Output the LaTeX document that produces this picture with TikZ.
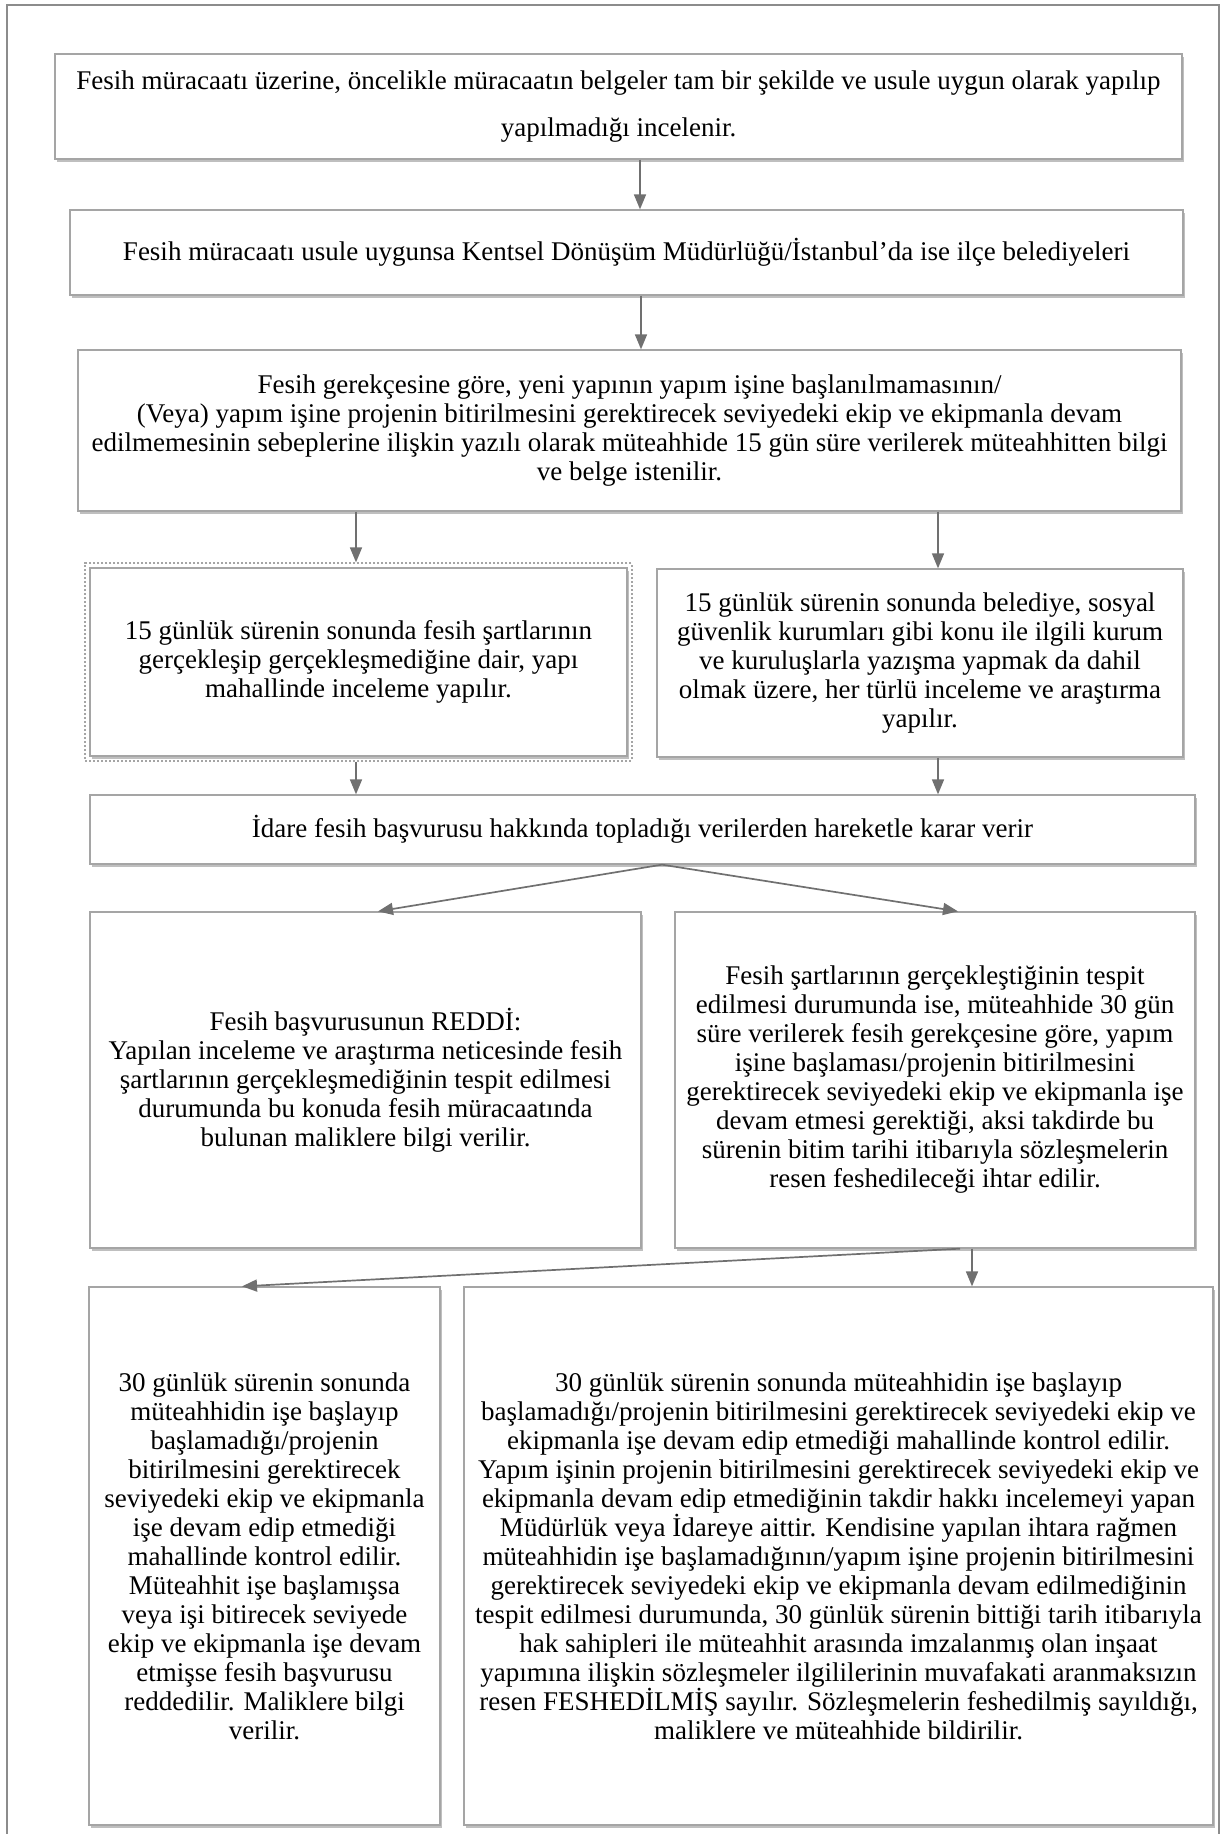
\documentclass[tikz,border=0pt]{standalone}
\usepackage{fontspec}
\setmainfont{Liberation Serif}
\definecolor{boxgray}{RGB}{165, 165, 165}
\definecolor{arrowgray}{RGB}{112, 112, 112}
\definecolor{framegray}{RGB}{140, 140, 140}
\usetikzlibrary{arrows.meta, positioning, calc, fit, shadows}
\tikzset{
  stepbox/.style={rectangle, draw=boxgray, fill=white, line width=1.3pt, align=center,
    font=\fontsize{27}{29}\selectfont, inner sep=0pt,
    drop shadow={shadow xshift=1.5pt, shadow yshift=-2.5pt, fill=black, opacity=0.25}},
  dotbox/.style={rectangle, draw=boxgray, dotted, line width=2pt, inner sep=4pt},
  flow/.style={draw=arrowgray, line width=1.7pt, -{Triangle[length=15pt, width=12pt]}},
}

\begin{document}
\begin{tikzpicture}[x=1pt, y=-1pt]
\useasboundingbox (0,0) rectangle (1222,1834);

% outer frame
\draw[framegray, line width=2pt] (7,1834) -- (7,5) -- (1219,5) -- (1219,1834);

% application check
\node[stepbox, minimum width=1127pt, minimum height=105pt] (intro) at (618.5,106.5)
  {Fesih müracaatı üzerine, öncelikle müracaatın belgeler tam bir şekilde ve usule uygun olarak yapılıp\\[18pt]
   yapılmadığı incelenir.};
\node[stepbox, minimum width=1113pt, minimum height=85pt] (usule) at (626.5,252.5)
  {Fesih müracaatı usule uygunsa Kentsel Dönüşüm Müdürlüğü/İstanbul’da ise ilçe belediyeleri};
\node[stepbox, minimum width=1103pt, minimum height=161pt] (gerekce) at (629.5,430.5)
  {Fesih gerekçesine göre, yeni yapının yapım işine başlanılmamasının/\\
   (Veya) yapım işine projenin bitirilmesini gerektirecek seviyedeki ekip ve ekipmanla devam\\
   edilmemesinin sebeplerine ilişkin yazılı olarak müteahhide 15 gün süre verilerek müteahhitten bilgi\\
   ve belge istenilir.};

% 15 day checks
\node[stepbox, minimum width=537pt, minimum height=188pt] (yerinde) at (358.5,662)
  {15 günlük sürenin sonunda fesih şartlarının\\
   gerçekleşip gerçekleşmediğine dair, yapı\\
   mahallinde inceleme yapılır.};
\node[dotbox, fit=(yerinde)] (yerindedot) {};
\node[stepbox, minimum width=526pt, minimum height=188pt] (arastirma) at (920,663)
  {15 günlük sürenin sonunda belediye, sosyal\\
   güvenlik kurumları gibi konu ile ilgili kurum\\
   ve kuruluşlarla yazışma yapmak da dahil\\
   olmak üzere, her türlü inceleme ve araştırma\\
   yapılır.};
\node[stepbox, minimum width=1105pt, minimum height=69pt] (karar) at (642.5,829.5)
  {İdare fesih başvurusu hakkında topladığı verilerden hareketle karar verir};

% decision
\node[stepbox, minimum width=551pt, minimum height=336pt] (red) at (365.5,1080)
  {Fesih başvurusunun REDDİ:\\
   Yapılan inceleme ve araştırma neticesinde fesih\\
   şartlarının gerçekleşmediğinin tespit edilmesi\\
   durumunda bu konuda fesih müracaatında\\
   bulunan maliklere bilgi verilir.};
\node[stepbox, minimum width=520pt, minimum height=336pt] (ihtar) at (935,1080)
  {Fesih şartlarının gerçekleştiğinin tespit\\
   edilmesi durumunda ise, müteahhide 30 gün\\
   süre verilerek fesih gerekçesine göre, yapım\\
   işine başlaması/projenin bitirilmesini\\
   gerektirecek seviyedeki ekip ve ekipmanla işe\\
   devam etmesi gerektiği, aksi takdirde bu\\
   sürenin bitim tarihi itibarıyla sözleşmelerin\\
   resen feshedileceği ihtar edilir.};

% 30 day checks
\node[stepbox, minimum width=351pt, minimum height=538pt] (kontrol) at (264.5,1556)
  {30 günlük sürenin sonunda\\
   müteahhidin işe başlayıp\\
   başlamadığı/projenin\\
   bitirilmesini gerektirecek\\
   seviyedeki ekip ve ekipmanla\\
   işe devam edip etmediği\\
   mahallinde kontrol edilir.\\
   Müteahhit işe başlamışsa\\
   veya işi bitirecek seviyede\\
   ekip ve ekipmanla işe devam\\
   etmişse fesih başvurusu\\
   reddedilir. Maliklere bilgi\\
   verilir.};
\node[stepbox, minimum width=749pt, minimum height=538pt] (fesih) at (838.5,1556)
  {30 günlük sürenin sonunda müteahhidin işe başlayıp\\
   başlamadığı/projenin bitirilmesini gerektirecek seviyedeki ekip ve\\
   ekipmanla işe devam edip etmediği mahallinde kontrol edilir.\\
   Yapım işinin projenin bitirilmesini gerektirecek seviyedeki ekip ve\\
   ekipmanla devam edip etmediğinin takdir hakkı incelemeyi yapan\\
   Müdürlük veya İdareye aittir. Kendisine yapılan ihtara rağmen\\
   müteahhidin işe başlamadığının/yapım işine projenin bitirilmesini\\
   gerektirecek seviyedeki ekip ve ekipmanla devam edilmediğinin\\
   tespit edilmesi durumunda, 30 günlük sürenin bittiği tarih itibarıyla\\
   hak sahipleri ile müteahhit arasında imzalanmış olan inşaat\\
   yapımına ilişkin sözleşmeler ilgililerinin muvafakati aranmaksızın\\
   resen FESHEDİLMİŞ sayılır. Sözleşmelerin feshedilmiş sayıldığı,\\
   maliklere ve müteahhide bildirilir.};

% arrows
\draw[flow] ([xshift=21.5pt]intro.south) -- ([xshift=13.5pt]usule.north);
\draw[flow] ([xshift=14.5pt]usule.south) -- ([xshift=11.5pt]gerekce.north);
\draw[flow] ([xshift=-273.5pt]gerekce.south) -- ([xshift=-2.5pt]yerindedot.north);
\draw[flow] ([xshift=308.5pt]gerekce.south) -- ([xshift=18pt]arastirma.north);
\draw[flow] ([xshift=-2.5pt]yerindedot.south) -- ([xshift=-286.5pt]karar.north);
\draw[flow] ([xshift=18pt]arastirma.south) -- ([xshift=295.5pt]karar.north);
\draw[flow] ([xshift=19.5pt]karar.south) -- ([xshift=12.5pt]red.north);
\draw[flow] ([xshift=19.5pt]karar.south) -- ([xshift=23pt]ihtar.north);
\draw[flow] ([xshift=25pt]ihtar.south) -- ([xshift=-22.5pt]kontrol.north);
\draw[flow] ([xshift=37pt]ihtar.south) -- ([xshift=133.5pt]fesih.north);
\end{tikzpicture}
\end{document}
